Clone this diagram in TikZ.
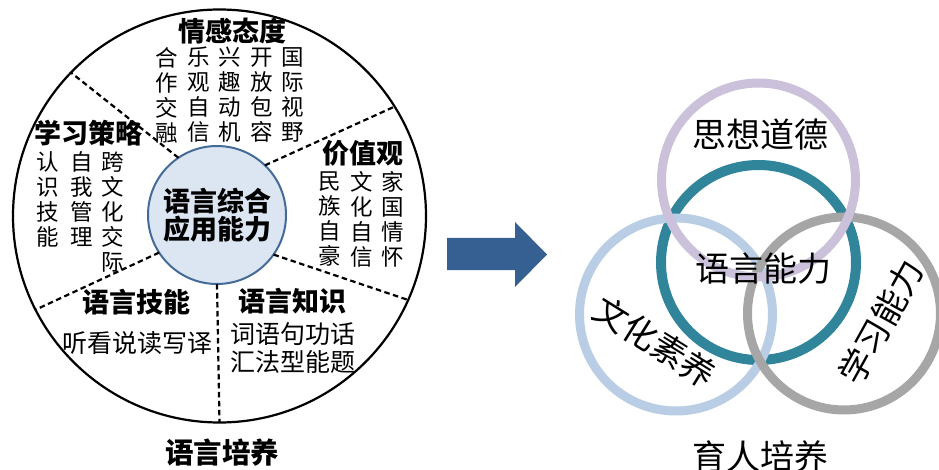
\documentclass[tikz,border=0pt]{standalone}
\usepackage{fontspec}
\newfontfamily\cjk{Noto Sans CJK SC}
\definecolor{corefill}{RGB}{220,230,242}
\definecolor{coreline}{RGB}{68,106,152}
\definecolor{arrowblue}{RGB}{55,96,146}
\definecolor{moralring}{RGB}{204,193,218}
\definecolor{langring}{RGB}{49,133,155}
\definecolor{cultring}{RGB}{185,205,229}
\definecolor{learnring}{RGB}{166,166,166}

\begin{document}
\begin{tikzpicture}[x=1pt,y=-1pt,
  head/.style={font=\cjk\bfseries\fontsize{27}{30}\selectfont, inner sep=0},
  col/.style={font=\cjk\fontsize{22.5}{25}\selectfont, align=center, inner sep=0},
  row/.style={font=\cjk\fontsize{25}{28}\selectfont, align=center, inner sep=0},
  spoke/.style={line width=2.2pt, dash pattern=on 5.5pt off 3.5pt},
  ring/.style={circle, line width=9pt, inner sep=0, outer sep=0},
  big/.style={font=\cjk\fontsize{34}{38}\selectfont, inner sep=0},
  ]
  \useasboundingbox (0,0) rectangle (939,470);

  % left wheel
  \node[draw, circle, line width=2.2pt, minimum size=413pt, inner sep=0, outer sep=0] (wheel) at (219.5,216) {};
  \node[draw=coreline, fill=corefill, circle, line width=2pt, minimum size=138pt,
        inner sep=0, outer sep=0, align=center,
        font=\cjk\bfseries\fontsize{27}{28}\selectfont] (core) at (217,215) {语言综合\\应用能力};
  \draw[spoke] (core.124) -- (wheel.136);
  \draw[spoke] (core.46) -- (wheel.32);
  \draw[spoke] (core.-35) -- (wheel.-24);
  \draw[spoke] (core.-90) -- (wheel.-90);
  \draw[spoke] (core.213) -- (wheel.207);

  % emotion
  \node[head] (emo) at (232,31) {情感态度};
  \node[col] (emo1) at (167,95) {合\\作\\交\\融};
  \node[col] (emo2) at (198.5,95) {乐\\观\\自\\信};
  \node[col] (emo3) at (230,95) {兴\\趣\\动\\机};
  \node[col] (emo4) at (261.5,95) {开\\放\\包\\容};
  \node[col] (emo5) at (293,95) {国\\际\\视\\野};

  % strategy
  \node[head] (strat) at (88,133) {学习策略};
  \node[col] (strat1) at (48,199.5) {认\\识\\技\\能};
  \node[col] (strat2) at (82,199.5) {自\\我\\管\\理};
  \node[col] (strat3) at (113,212) {跨\\文\\化\\交\\际};

  % values
  \node[head] (val) at (363,153) {价值观};
  \node[col] (val1) at (330,219) {民\\族\\自\\豪};
  \node[col] (val2) at (362,219) {文\\化\\自\\信};
  \node[col] (val3) at (393,219) {家\\国\\情\\怀};

  % skills and knowledge
  \node[head] (skill) at (136,302) {语言技能};
  \node[row] (skill1) at (137,343) {听看说读写译};
  \node[head] (know) at (292,301) {语言知识};
  \node[row] (know1) at (293,347.5) {词语句功话\\汇法型能题};

  \node[head, font=\cjk\bfseries\fontsize{28.5}{30}\selectfont] (langcap) at (222,453) {语言培养};

  % arrow
  \fill[arrowblue] (447,238) -- (515,238) -- (515,222) -- (547,254.5)
    -- (515,287) -- (515,270) -- (447,270) -- cycle;

  % right rings
  \node[ring, draw=langring, line width=10pt, minimum size=195pt] (lang) at (758.5,262.5) {};
  \node[ring, draw=cultring, minimum size=193pt] (cult) at (676,314.5) {};
  \node[ring, draw=learnring, minimum size=193pt] (learn) at (844,313.5) {};
  \node[ring, draw=moralring, minimum size=194pt] (moral) at (758.5,180) {};

  \node[big] (moraltxt) at (760,135) {思想道德};
  \node[big] (langtxt) at (763,269) {语言能力};
  \node[big, rotate=-32] (culttxt) at (655,342) {文化素养};
  \node[big, rotate=61] (learntxt) at (881,322) {学习能力};
  \node[big] (peoplecap) at (760,457) {育人培养};
\end{tikzpicture}
\end{document}
